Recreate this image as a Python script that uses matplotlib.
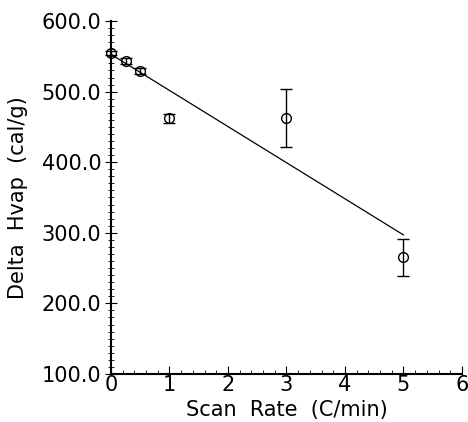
import numpy as np
import matplotlib.pyplot as plt
from matplotlib.ticker import MultipleLocator, FormatStrFormatter

# scan rate vs heat of vaporization
scan_rate = [0.0, 0.25, 0.5, 1.0, 3.0, 5.0]
hvap = [555, 543, 529, 462, 463, 265]
hvap_err = [3, 4, 4, 7, 41, 26]

# fitted line endpoints
fit_x = [0.0, 5.0]
fit_y = [553, 297]

fig = plt.figure(figsize=(4.68, 4.22), dpi=100)
ax = fig.add_axes([0.237, 0.114, 0.75, 0.836])

ax.plot(fit_x, fit_y, color="black", lw=0.9)
eb = ax.errorbar(scan_rate, hvap, yerr=hvap_err, fmt="o", mfc="none", mec="black",
                 ecolor="black", ms=7, mew=1.0, elinewidth=1.0, capsize=4, capthick=1.0)
for art in eb.get_children():
    art.set_clip_on(False)

ax.set_xlim(0, 6)
ax.set_ylim(100, 600)
ax.xaxis.set_major_locator(MultipleLocator(1))
ax.xaxis.set_minor_locator(MultipleLocator(0.2))
ax.yaxis.set_major_locator(MultipleLocator(100))
ax.yaxis.set_minor_locator(MultipleLocator(10))
ax.yaxis.set_major_formatter(FormatStrFormatter("%.1f"))

for s in ["top", "right"]:
    ax.spines[s].set_visible(False)
ax.spines["left"].set_linewidth(1.5)
ax.spines["bottom"].set_linewidth(1.5)

ax.tick_params(axis="x", which="both", direction="in", labelsize=15, pad=1)
ax.tick_params(axis="x", which="major", length=6)
ax.tick_params(axis="x", which="minor", length=3)
ax.tick_params(axis="y", which="both", direction="inout", labelsize=15, pad=3)
ax.tick_params(axis="y", which="major", length=8)
ax.tick_params(axis="y", which="minor", length=4)

ax.set_xlabel("Scan  Rate  (C/min)", fontsize=15)
ax.set_ylabel("Delta  Hvap  (cal/g)", fontsize=15)
ax.xaxis.set_label_coords(0.5, -0.075)
ax.yaxis.set_label_coords(-0.235, 0.5)

fig.savefig("out.png", dpi=100)
